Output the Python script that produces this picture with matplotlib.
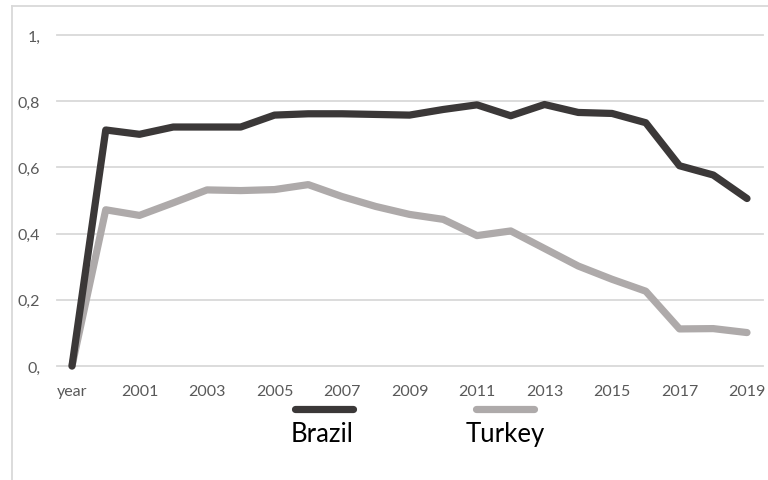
import matplotlib.pyplot as plt
from matplotlib.lines import Line2D

plt.rcParams['font.family'] = ['Lato', 'DejaVu Sans']

categories = ['year'] + [str(y) for y in range(2000, 2020)]
brazil = [0.0, 0.713, 0.700, 0.722, 0.722, 0.722, 0.758, 0.762, 0.762, 0.760,
          0.758, 0.775, 0.789, 0.756, 0.790, 0.766, 0.763, 0.735, 0.605, 0.577,
          0.506]
turkey = [0.0, 0.472, 0.455, 0.493, 0.532, 0.530, 0.533, 0.548, 0.512, 0.482,
          0.458, 0.443, 0.394, 0.408, 0.355, 0.302, 0.262, 0.226, 0.112, 0.113,
          0.101]
y_ticks = [0, 0.2, 0.4, 0.6, 0.8, 1.0]
y_tick_labels = ['0,', '0,2', '0,4', '0,6', '0,8', '1,']

W, H = 768, 481
fig = plt.figure(figsize=(W / 100, H / 100), dpi=100)

# axes box: gridlines run from x=57 to 763, y=0 at 367px and y=1 at 36px
ax = fig.add_axes([57 / W, 1 - 367 / H, (763 - 57) / W, (367 - 36) / H])
x = list(range(len(categories)))
ax.set_xlim(-15 / 33.75, 20 + 16 / 33.75)
ax.set_ylim(0, 1)

for yv in y_ticks:
    ax.axhline(yv, color='#d9d9d9', lw=1.3, zorder=0, clip_on=False)

ax.plot(x, brazil, color='#3b3838', lw=5.2, solid_capstyle='round',
        solid_joinstyle='round', clip_on=False, zorder=3)
ax.plot(x, turkey, color='#aeaaaa', lw=5.2, solid_capstyle='round',
        solid_joinstyle='round', clip_on=False, zorder=2)

for s in ax.spines.values():
    s.set_visible(False)
ax.set_yticks(y_ticks)
ax.set_yticklabels(y_tick_labels)
ax.set_xticks(x[::2])
ax.set_xticklabels(['year'] + categories[2::2])
ax.tick_params(length=0, colors='#595959', labelsize=11.5)
ax.tick_params(axis='y', pad=12)
ax.tick_params(axis='x', pad=13)

# chart frame (top and left edges)
fig.add_artist(Line2D([12 / W, 1.0], [1 - 7 / H, 1 - 7 / H],
                      color='#d9d9d9', lw=1.3, transform=fig.transFigure))
fig.add_artist(Line2D([12 / W, 12 / W], [1 - 7 / H, 0.0],
                      color='#d9d9d9', lw=1.3, transform=fig.transFigure))

# legend entries below the axis
legend = [('Brazil', '#3b3838', 295, 353, 322), ('Turkey', '#aeaaaa', 476, 534, 505)]
for name, col, x0, x1, xc in legend:
    fig.add_artist(Line2D([x0 / W, x1 / W], [1 - 410 / H, 1 - 410 / H],
                          color=col, lw=5.2, solid_capstyle='round',
                          transform=fig.transFigure))
    fig.text(xc / W, 1 - 435 / H, name, ha='center', va='center',
             fontsize=18.5, color='black')

fig.savefig('out.png', dpi=100)
